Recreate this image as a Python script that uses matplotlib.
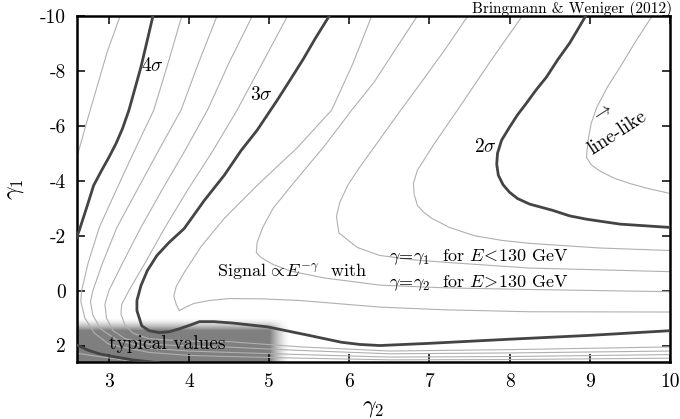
import numpy as np
import matplotlib.pyplot as plt

plt.rcParams['font.family'] = 'cmr10'
plt.rcParams['mathtext.fontset'] = 'cm'
plt.rcParams['axes.unicode_minus'] = False

# contour curves, as (gamma2, gamma1) points
# thick ones: 2, 3, 4 sigma ; thin ones every 0.2 sigma
c18 = [(9.78, -10.0), (9.58, -9.1), (9.38, -8.14), (9.22, -7.4), (9.09, -6.68),
       (9.02, -6.1), (8.98, -5.47), (8.96, -4.85), (9.02, -4.58), (9.13, -4.35),
       (9.3, -4.1), (9.5, -3.9), (9.75, -3.7), (10.0, -3.54)]
c20 = [(8.95, -10.0), (8.85, -9.5), (8.75, -9.01), (8.6, -8.4), (8.46, -7.77),
       (8.33, -7.3), (8.21, -6.82), (8.1, -6.4), (8.0, -5.95), (7.9, -5.47),
       (7.85, -5.0), (7.84, -4.6), (7.86, -4.2), (7.92, -3.85), (8.0, -3.58),
       (8.1, -3.35), (8.25, -3.15), (8.54, -2.92), (8.75, -2.72), (8.96, -2.6),
       (9.38, -2.42), (10.0, -2.3)]
c22 = [(8.16, -10.0), (7.75, -8.3), (7.35, -6.57), (7.05, -5.3), (6.85, -4.38),
       (6.8, -3.9), (6.81, -3.5), (6.85, -3.1), (6.93, -2.85), (7.03, -2.63),
       (7.25, -2.3), (7.56, -2.0), (7.9, -1.83), (8.25, -1.72), (9.13, -1.55),
       (10.0, -1.46)]
c24 = [(7.48, -10.0), (7.2, -8.8), (6.9, -7.59), (6.6, -6.4), (6.31, -5.22),
       (6.12, -4.45), (5.98, -3.83), (5.88, -3.2), (5.84, -2.7), (5.87, -2.1),
       (6.1, -1.57), (6.38, -1.28), (6.8, -1.12), (7.25, -1.02), (8.25, -0.82),
       (10.0, -0.69)]
c26 = [(6.85, -10.0), (6.58, -8.8), (6.31, -7.59), (6.03, -6.57), (5.7, -5.3),
       (5.28, -3.83), (5.05, -3.0), (4.92, -2.3), (4.85, -1.75), (4.84, -1.39),
       (4.9, -1.2), (5.05, -0.95), (5.28, -0.7), (5.69, -0.46), (6.38, -0.2),
       (7.2, -0.1), (8.25, -0.04), (10.0, 0.04)]
c28 = [(6.28, -10.0), (6.05, -8.3), (5.78, -6.57), (5.35, -5.2), (4.85, -3.83),
       (4.44, -2.63), (4.15, -1.6), (3.94, -0.66), (3.84, -0.15), (3.81, 0.2),
       (3.84, 0.5), (3.88, 0.73), (3.96, 0.6), (4.06, 0.47), (4.25, 0.36),
       (4.5, 0.29), (4.9, 0.3), (5.38, 0.36), (6.38, 0.6), (7.2, 0.7),
       (8.25, 0.77), (10.0, 0.78)]
c30 = [(5.75, -10.0), (5.58, -9.2), (5.42, -8.4), (5.26, -7.66), (5.1, -6.93),
       (4.85, -5.84), (4.65, -5.1), (4.44, -4.2), (4.19, -3.28), (3.94, -2.26),
       (3.75, -1.75), (3.6, -1.28), (3.48, -0.73), (3.4, -0.18), (3.35, 0.36),
       (3.35, 0.73), (3.41, 1.28), (3.5, 1.46), (3.63, 1.53), (3.75, 1.5),
       (3.88, 1.39), (4.03, 1.24), (4.13, 1.13), (4.31, 1.13), (4.54, 1.18),
       (4.98, 1.32), (5.48, 1.62), (5.9, 1.88), (6.13, 1.96), (6.38, 2.0),
       (7.0, 1.92), (8.0, 1.77), (9.0, 1.63), (10.0, 1.46)]
c32 = [(5.23, -10.0), (4.9, -8.2), (4.6, -6.57), (4.3, -5.1), (3.98, -3.65),
       (3.7, -2.3), (3.45, -1.0), (3.25, 0.0), (3.16, 0.5), (3.15, 0.85),
       (3.2, 1.25), (3.3, 1.55), (3.5, 1.75), (3.9, 1.83), (4.5, 1.86),
       (5.4, 2.05), (6.5, 2.2), (8.0, 2.15), (10.0, 2.05)]
c34 = [(4.79, -10.0), (4.5, -8.3), (4.23, -6.57), (3.95, -5.1), (3.66, -3.65),
       (3.4, -2.3), (3.17, -1.0), (3.0, 0.0), (2.95, 0.5), (2.97, 1.0),
       (3.05, 1.45), (3.2, 1.75), (3.5, 1.95), (4.0, 2.02), (4.5, 2.06),
       (5.4, 2.18), (6.5, 2.3), (8.0, 2.27), (10.0, 2.2)]
c36 = [(4.35, -10.0), (4.12, -8.3), (3.9, -6.57), (3.62, -5.1), (3.35, -3.65),
       (3.1, -2.3), (2.92, -1.0), (2.8, 0.0), (2.77, 0.4), (2.8, 0.9),
       (2.9, 1.4), (3.1, 1.8), (3.5, 2.1), (4.0, 2.2), (4.5, 2.25),
       (5.4, 2.33), (6.5, 2.42), (8.0, 2.4), (10.0, 2.33)]
c38 = [(3.91, -10.0), (3.74, -8.3), (3.56, -6.57), (3.32, -5.1), (3.09, -3.65),
       (2.88, -2.3), (2.74, -1.0), (2.66, 0.0), (2.65, 0.4), (2.7, 1.0),
       (2.82, 1.55), (3.0, 1.95), (3.5, 2.25), (4.0, 2.36), (4.5, 2.4),
       (5.4, 2.46), (6.5, 2.52), (8.0, 2.51), (10.0, 2.46)]
c40_top = [(3.55, -10.0), (3.47, -9.0), (3.4, -8.14), (3.32, -7.3), (3.25, -6.57),
           (3.17, -5.9), (3.09, -5.36), (3.0, -4.85), (2.91, -4.38), (2.81, -3.83),
           (2.72, -3.0), (2.63, -2.19), (2.58, -1.8)]
c40_bot = [(2.58, 1.95), (2.65, 2.05), (2.75, 2.18), (2.88, 2.3), (3.05, 2.4),
           (3.29, 2.52), (3.63, 2.63)]
c42_top = [(3.14, -10.0), (2.98, -8.7), (2.85, -7.4), (2.72, -6.1), (2.6, -4.85)]
c42_bot = [(2.58, 2.27), (2.8, 2.37), (3.0, 2.45), (3.4, 2.62)]

thick = [c20, c30, c40_top, c40_bot]
thin = [c18, c22, c24, c26, c28, c32, c34, c36, c38, c42_top, c42_bot]

sigma_labels = ['$2\\sigma$', '$3\\sigma$', '$4\\sigma$']
sigma_pos = [(7.7, -5.22), (4.9, -7.12), (3.54, -8.18)]

xticks = [3, 4, 5, 6, 7, 8, 9, 10]
yticks = [-10, -8, -6, -4, -2, 0, 2]

# "typical values" box: gamma2 2.6..5.0, gamma1 1.45..2.6 (soft edges)
box_x = (2.6, 5.0, 5.25)
box_y = (1.0, 1.45, 2.6)

fig = plt.figure(figsize=(6.8, 4.19), dpi=100)
ax = fig.add_axes([0.113, 0.136, 0.872, 0.826])

# soft grey box
gx = np.linspace(box_x[0], box_x[2], 300)
gy = np.linspace(box_y[0], box_y[2], 200)
fx = np.clip((box_x[2] - gx) / (box_x[2] - box_x[1]), 0, 1)
fy = np.clip((gy - box_y[0]) / (box_y[1] - box_y[0]), 0, 1)
img = np.zeros((len(gy), len(gx), 4))
img[..., :3] = 0.5
img[..., 3] = np.outer(fy ** 1.5, fx ** 1.5)
ax.imshow(img, extent=[box_x[0], box_x[2], box_y[0], box_y[2]], origin='lower',
          aspect='auto', zorder=1, interpolation='bilinear')

for c in thin:
    c = np.array(c)
    ax.plot(c[:, 0], c[:, 1], color='#b0b0b0', lw=0.8, zorder=2)
for c in thick:
    c = np.array(c)
    ax.plot(c[:, 0], c[:, 1], color='#444444', lw=2.0, zorder=3,
            solid_capstyle='round', solid_joinstyle='round')

for lab, (x, y) in zip(sigma_labels, sigma_pos):
    ax.text(x, y, lab, fontsize=14, ha='center', va='center', zorder=4)

ax.text(4.35, -0.69, 'Signal$\\,\\propto\\! E^{-\\gamma}$  with', fontsize=13,
        ha='left', va='center', zorder=4)
ax.text(6.5, -1.2, '$\\gamma\\!=\\!\\gamma_1$  for $E\\!<\\!130$ GeV', fontsize=13,
        ha='left', va='center', zorder=4)
ax.text(6.5, -0.26, '$\\gamma\\!=\\!\\gamma_2$  for $E\\!>\\!130$ GeV', fontsize=13,
        ha='left', va='center', zorder=4)
ax.text(3.0, 1.95, 'typical values', fontsize=14, ha='left', va='center', zorder=4)
ax.text(9.15, -6.46, '$\\rightarrow$', fontsize=13, ha='center', va='center',
        rotation=33, zorder=4)
ax.text(9.34, -5.73, 'line-like', fontsize=14, ha='center', va='center',
        rotation=33, rotation_mode='anchor', zorder=4)

ax.set_xlim(2.6, 10)
ax.set_ylim(2.6, -10)
ax.set_xticks(xticks)
ax.set_xticklabels([str(t) for t in xticks])
ax.set_yticks(yticks)
ax.set_yticklabels([str(t) for t in yticks])
ax.tick_params(direction='in', top=True, right=True, length=6, width=1.1,
               labelsize=14, pad=8)
for s in ax.spines.values():
    s.set_linewidth(1.8)

ax.set_xlabel('$\\gamma_2$', fontsize=17, labelpad=4)
ax.set_ylabel('$\\gamma_1$', fontsize=17, labelpad=10)

fig.text(0.988, 0.978, 'Bringmann & Weniger (2012)', fontsize=11,
         ha='right', va='center')

fig.savefig('out.png', dpi=100)
